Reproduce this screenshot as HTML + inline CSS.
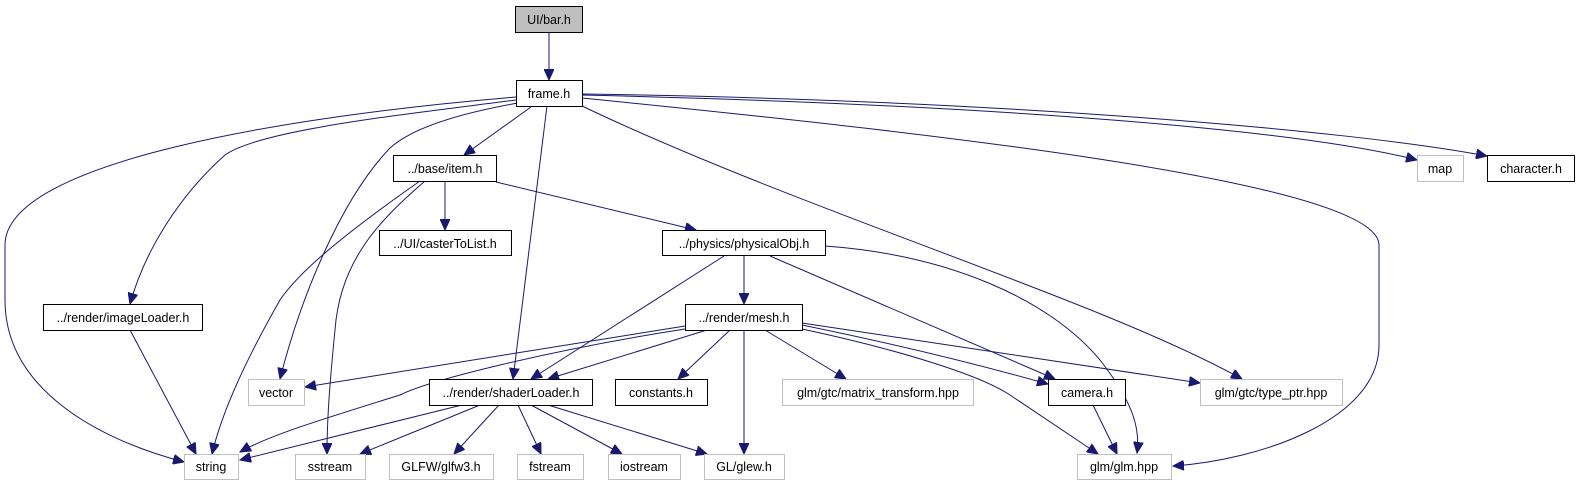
<!DOCTYPE html>
<html><head><meta charset="utf-8"><style>
html,body{margin:0;padding:0;background:#fff;}
svg{display:block;}
text{font-family:"Liberation Sans",Arial,sans-serif;font-size:12.5px;fill:#000;}
</style></head><body>
<svg width="1579" height="485" viewBox="0 0 1579 485" xmlns="http://www.w3.org/2000/svg">
<defs>
<marker id="a" markerUnits="userSpaceOnUse" markerWidth="12" markerHeight="10" refX="11" refY="5" orient="auto">
<path d="M0,0 L11,5 L0,10 z" fill="#191970" stroke="#191970"/>
</marker>
</defs>
<g fill="none" stroke="#191970" stroke-width="1" marker-end="url(#a)">
<path d="M549,32 L549,80"/>
<path d="M516,97 C300,115 5,160 5,245 L5,300 C5,390 100,440 184,462"/>
<path d="M516,100 C400,115 260,130 225,155 C180,195 145,250 130,304"/>
<path d="M518,103 C450,115 410,130 390,148 C340,200 300,300 280,379"/>
<path d="M531,107 L464,155"/>
<path d="M547,106 L513,379"/>
<path d="M582,106 C800,210 1100,300 1242,379"/>
<path d="M582,98 C900,130 1379,180 1379,245 L1379,345 C1379,420 1260,460 1173,466"/>
<path d="M582,95 C1000,105 1300,130 1417,160"/>
<path d="M582,94 C1000,100 1350,130 1487,156"/>
<path d="M445,181 L445,230"/>
<path d="M420,181 C350,230 300,270 280,300 C240,370 220,420 212,454"/>
<path d="M425,181 C380,220 340,260 335,330 C328,400 327,430 327,454"/>
<path d="M496,182 L696,230"/>
<path d="M744,255 L744,304"/>
<path d="M724,256 L531,379"/>
<path d="M770,256 L1055,379"/>
<path d="M825,246 C950,255 1050,300 1100,360 C1135,405 1140,430 1137,453"/>
<path d="M130,330 L196,454"/>
<path d="M685,326 L305,387"/>
<path d="M685,329 C550,350 430,380 400,395 C320,420 270,435 240,452"/>
<path d="M707,330 L548,379"/>
<path d="M730,330 L678,379"/>
<path d="M744,330 L744,454"/>
<path d="M765,330 L846,379"/>
<path d="M802,325 C900,345 980,365 1048,384"/>
<path d="M802,323 L1200,383"/>
<path d="M802,329 C900,350 980,375 1010,395 C1040,415 1070,435 1098,454"/>
<path d="M462,405 L240,460"/>
<path d="M480,405 L360,454"/>
<path d="M499,405 L454,454"/>
<path d="M518,405 L541,454"/>
<path d="M531,405 L622,454"/>
<path d="M548,405 L707,454"/>
<path d="M1093,405 L1117,454"/>
</g>
<g stroke-width="1">
<rect x="515.5" y="6.5" width="67" height="26" fill="#bfbfbf" stroke="#000"/>
<rect x="516.5" y="80.5" width="66" height="26" fill="#fff" stroke="#000"/>
<rect x="393.5" y="155.5" width="103" height="26" fill="#fff" stroke="#000"/>
<rect x="379.5" y="230.5" width="132" height="25" fill="#fff" stroke="#000"/>
<rect x="662.5" y="230.5" width="163" height="25" fill="#fff" stroke="#000"/>
<rect x="43.5" y="304.5" width="159" height="26" fill="#fff" stroke="#000"/>
<rect x="685.5" y="304.5" width="117" height="26" fill="#fff" stroke="#000"/>
<rect x="248.5" y="379.5" width="56" height="26" fill="#fff" stroke="#bfbfbf"/>
<rect x="429.5" y="379.5" width="163" height="26" fill="#fff" stroke="#000"/>
<rect x="615.5" y="379.5" width="92" height="26" fill="#fff" stroke="#000"/>
<rect x="782.5" y="379.5" width="191" height="26" fill="#fff" stroke="#bfbfbf"/>
<rect x="1048.5" y="379.5" width="77" height="26" fill="#fff" stroke="#000"/>
<rect x="1200.5" y="379.5" width="142" height="26" fill="#fff" stroke="#bfbfbf"/>
<rect x="184.5" y="454.5" width="54" height="25" fill="#fff" stroke="#bfbfbf"/>
<rect x="295.5" y="454.5" width="70" height="25" fill="#fff" stroke="#bfbfbf"/>
<rect x="389.5" y="454.5" width="104" height="25" fill="#fff" stroke="#bfbfbf"/>
<rect x="517.5" y="454.5" width="66" height="25" fill="#fff" stroke="#bfbfbf"/>
<rect x="608.5" y="454.5" width="72" height="25" fill="#fff" stroke="#bfbfbf"/>
<rect x="704.5" y="454.5" width="80" height="25" fill="#fff" stroke="#bfbfbf"/>
<rect x="1077.5" y="454.5" width="94" height="25" fill="#fff" stroke="#bfbfbf"/>
<rect x="1417.5" y="155.5" width="46" height="26" fill="#fff" stroke="#bfbfbf"/>
<rect x="1487.5" y="155.5" width="87" height="26" fill="#fff" stroke="#000"/>
</g>
<g text-anchor="middle">
<text x="549" y="24">UI/bar.h</text>
<text x="549" y="98">frame.h</text>
<text x="445" y="173">../base/item.h</text>
<text x="445" y="248">../UI/casterToList.h</text>
<text x="744" y="248">../physics/physicalObj.h</text>
<text x="123" y="322">../render/imageLoader.h</text>
<text x="744" y="322">../render/mesh.h</text>
<text x="276" y="397">vector</text>
<text x="511" y="397">../render/shaderLoader.h</text>
<text x="661" y="397">constants.h</text>
<text x="878" y="397">glm/gtc/matrix_transform.hpp</text>
<text x="1087" y="397">camera.h</text>
<text x="1271" y="397">glm/gtc/type_ptr.hpp</text>
<text x="211" y="471">string</text>
<text x="330" y="471">sstream</text>
<text x="441" y="471">GLFW/glfw3.h</text>
<text x="550" y="471">fstream</text>
<text x="644" y="471">iostream</text>
<text x="744" y="471">GL/glew.h</text>
<text x="1124" y="471">glm/glm.hpp</text>
<text x="1440" y="173">map</text>
<text x="1531" y="173">character.h</text>
</g>
</svg>
</body></html>
